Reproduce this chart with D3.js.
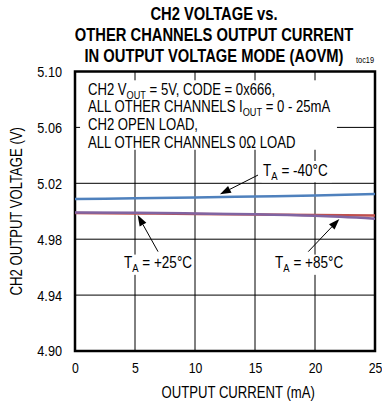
<!DOCTYPE html>
<html>
<head>
<meta charset="utf-8">
<script src="https://cdn.jsdelivr.net/npm/d3@7"></script>
<style>
  html, body { margin: 0; padding: 0; background: #fff; }
  svg { display: block; }
  text { font-family: "Liberation Sans", Arial, sans-serif; fill: #000; }
</style>
</head>
<body>
<svg id="chart" width="382" height="404"></svg>
<script>
// ---- data ----
const currents = [0, 5, 10, 15, 20, 25];            // mA
const vMinus40 = [5.0087, 5.0093, 5.0099, 5.0106, 5.0113, 5.0123];
const vPlus25  = [4.9987, 4.9984, 4.9981, 4.9977, 4.9974, 4.9970];
const vPlus85  = [4.9991, 4.9989, 4.9984, 4.9978, 4.9967, 4.9947];
const seriesNames = ["-40°C", "+25°C", "+85°C"];
const xTicks = [0, 5, 10, 15, 20, 25];
const yTicks = [4.90, 4.94, 4.98, 5.02, 5.06, 5.10];
const titleLines = ["CH2 VOLTAGE vs.", "OTHER CHANNELS OUTPUT CURRENT", "IN OUTPUT VOLTAGE MODE (AOVM)"];

const SX = 0.82; // narrow-font condensing
const svg = d3.select("#chart");
const W = 382, H = 404;
const m = { left: 75, right: 7, top: 71.5, bottom: 53 };
const x = d3.scaleLinear().domain([0, 25]).range([m.left, W - m.right]);
const y = d3.scaleLinear().domain([4.90, 5.10]).range([H - m.bottom, m.top]);

function ntext(parent, px, py, size, anchor, weight, rot) {
  const g = parent.append("g").attr("transform", `translate(${px},${py})${rot ? " rotate(" + rot + ")" : ""} scale(${SX},1)`);
  return g.append("text").attr("text-anchor", anchor || "start").attr("font-size", size)
    .attr("font-weight", weight || "normal");
}

// title
titleLines.forEach((t, i) => {
  ntext(svg, 214, 20 + i * 20.8, 18, "middle", "bold").text(t);
});
ntext(svg, 356, 63, 9, "start").text("toc19");

// grid
const grid = svg.append("g").attr("stroke", "#000").attr("stroke-width", 1);
xTicks.slice(1, -1).forEach(v => {
  grid.append("line").attr("x1", x(v)).attr("x2", x(v)).attr("y1", y(5.10)).attr("y2", y(4.90));
});
yTicks.slice(1, -1).forEach(v => {
  grid.append("line").attr("x1", x(0)).attr("x2", x(25)).attr("y1", y(v)).attr("y2", y(v));
});

// white boxes behind annotations
const bg = svg.append("g").attr("fill", "#fff");
bg.append("rect").attr("x", x(0.42)).attr("y", y(5.0937)).attr("width", x(21.83) - x(0.42)).attr("height", y(5.0440) - y(5.0937));
bg.append("rect").attr("x", x(15.55)).attr("y", y(5.0360)).attr("width", x(21.4) - x(15.55)).attr("height", y(5.0207) - y(5.0360));
bg.append("rect").attr("x", x(3.9)).attr("y", y(4.9690)).attr("width", x(9.75) - x(3.9)).attr("height", y(4.9545) - y(4.9690));
bg.append("rect").attr("x", x(16.5)).attr("y", y(4.9690)).attr("width", x(22.4) - x(16.5)).attr("height", y(4.9545) - y(4.9690));

// axis tick labels
const xAxis = d3.axisBottom(x).tickValues(xTicks).tickSize(0).tickPadding(11).tickFormat(d3.format("d"));
const gx = svg.append("g").attr("transform", `translate(0,${y(4.90)})`).call(xAxis);
gx.select(".domain").remove();
gx.attr("font-family", null).attr("font-size", null);
gx.selectAll("text").attr("font-size", 15).attr("transform", `scale(${SX},1)`);

const yAxis = d3.axisLeft(y).tickValues(yTicks).tickSize(0).tickPadding(13).tickFormat(d3.format(".2f"));
const gy = svg.append("g").attr("transform", `translate(${x(0)},0)`).call(yAxis);
gy.select(".domain").remove();
gy.attr("font-family", null).attr("font-size", null);
gy.selectAll("text").attr("font-size", 15.5).attr("x", -13 / SX).attr("transform", `scale(${SX},1)`);

// axis titles
ntext(svg, x(13.6), 398, 16, "middle").text("OUTPUT CURRENT (mA)");
ntext(svg, 22, (y(4.90) + y(5.10)) / 2, 16, "middle", "normal", -90).text("CH2 OUTPUT VOLTAGE (V)");

// frame
svg.append("rect").attr("x", x(0)).attr("y", y(5.10)).attr("width", x(25) - x(0)).attr("height", y(4.90) - y(5.10))
  .attr("fill", "none").attr("stroke", "#000").attr("stroke-width", 2.5);

// series
const line = d3.line().x((d, i) => x(currents[i])).y(d => y(d)).curve(d3.curveMonotoneX);
const colors = ["#4f81bd", "#c0504d", "#8064a2"];
[vMinus40, vPlus25, vPlus85].forEach((s, k) => {
  svg.append("path").datum(s).attr("d", line).attr("fill", "none")
    .attr("stroke", colors[k]).attr("stroke-width", 2.5).attr("data-name", seriesNames[k]);
});

// annotation text box
function sub(t, parts, size) {
  parts.forEach(p => {
    if (p.sub) t.append("tspan").attr("font-size", size * 0.7).attr("dy", 4).text(p.t);
    else t.append("tspan").attr("dy", p.back ? -4 : 0).text(p.t);
  });
}
const AS = 16;
sub(ntext(svg, x(1.08), y(5.0832), AS), [{t: "CH2 V"}, {t: "OUT", sub: true}, {t: " = 5V, CODE = 0x666,", back: true}], AS);
sub(ntext(svg, x(1.08), y(5.0707), AS), [{t: "ALL OTHER CHANNELS I"}, {t: "OUT", sub: true}, {t: " = 0 - 25mA", back: true}], AS);
ntext(svg, x(1.08), y(5.0582), AS).text("CH2 OPEN LOAD,");
ntext(svg, x(1.08), y(5.0456), AS).text("ALL OTHER CHANNELS 0Ω LOAD");

// temperature labels with arrows
function tempLabel(xv, yv, name) {
  sub(ntext(svg, x(xv), y(yv), 16.5), [{t: "T"}, {t: "A", sub: true}, {t: " = " + name, back: true}], 16.5);
}
tempLabel(15.67, 5.0252, seriesNames[0]);
tempLabel(4.08, 4.9594, seriesNames[1]);
tempLabel(16.67, 4.9594, seriesNames[2]);

function arrow(x0, y0, x1, y1) {
  const X0 = x(x0), Y0 = y(y0), X1 = x(x1), Y1 = y(y1);
  const a = Math.atan2(Y1 - Y0, X1 - X0), L = 11, w = 3.8;
  const bx = X1 - L * Math.cos(a), by = Y1 - L * Math.sin(a);
  svg.append("line").attr("x1", X0).attr("y1", Y0).attr("x2", bx).attr("y2", by)
    .attr("stroke", "#000").attr("stroke-width", 1);
  svg.append("path").attr("d", `M${X1},${Y1}L${bx + w * Math.sin(a)},${by - w * Math.cos(a)}L${bx - w * Math.sin(a)},${by + w * Math.cos(a)}Z`)
    .attr("fill", "#000");
}
arrow(15.25, 5.0259, 12.08, 5.0121);
arrow(6.92, 4.9711, 5.22, 4.9973);
arrow(19.44, 4.9711, 22.03, 4.9945);
</script>
</body>
</html>
